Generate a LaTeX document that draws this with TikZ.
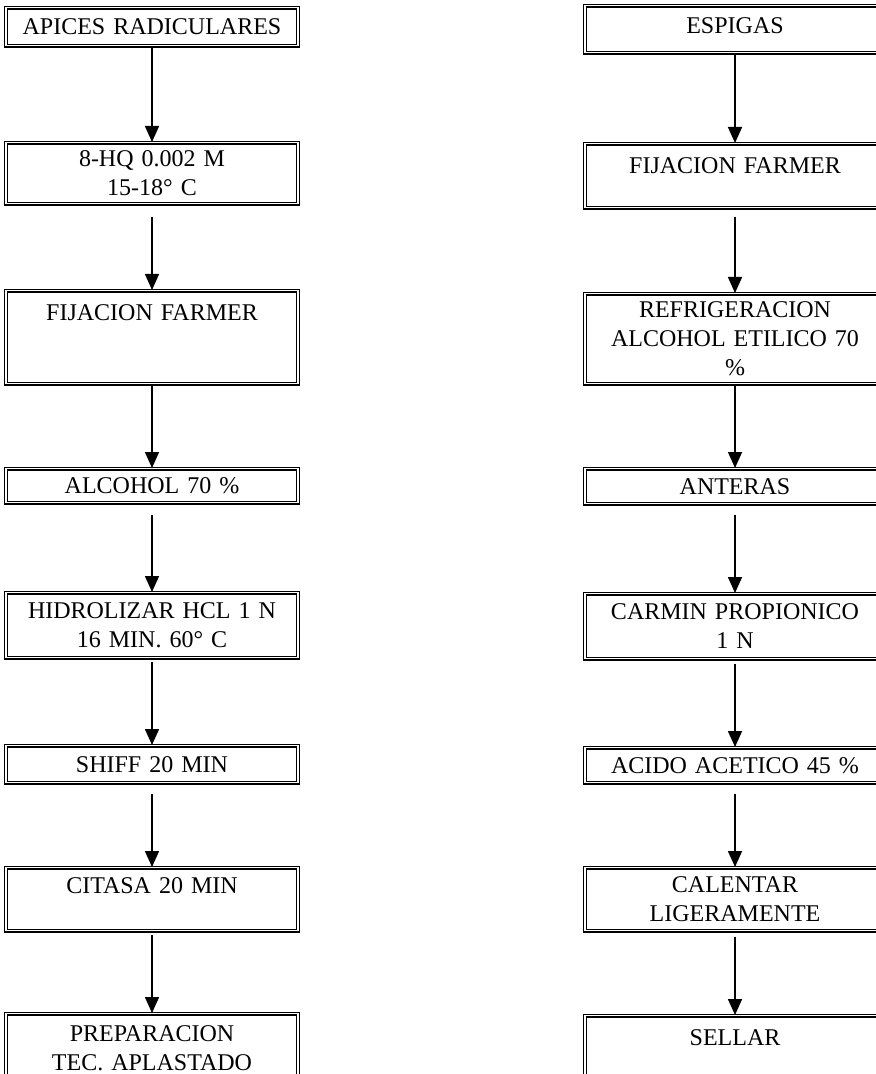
\documentclass[tikz,border=0pt]{standalone}
\usepackage{fontspec}
\setmainfont{Liberation Serif}
\usetikzlibrary{arrows.meta}

\begin{document}
\begin{tikzpicture}[
    x=1pt,
    y=1pt,
    font=\fontsize{12}{14.5}\selectfont,
    stepbox/.style={
      rectangle,
      draw,
      line width=0.8pt,
      double,
      double distance=0.6pt,
      anchor=north,
      align=center,
      inner xsep=3pt,
      inner ysep=2pt
    },
    stepleft/.style={
      stepbox,
      text width=140pt
    },
    stepright/.style={
      stepbox,
      text width=144pt
    },
    flow/.style={
      line width=0.8pt,
      -{Triangle[length=8pt,width=7pt]}
    }
]
\useasboundingbox (0,0) rectangle (438,-537);

% Root tips branch.
\node[stepleft,minimum height=19pt] (apices) at (76,-3.5)
  {APICES RADICULARES};
\node[stepleft,minimum height=30.5pt] (hq) at (76,-71)
  {8-HQ 0.002 M\\15-18° C};
\node[stepleft,text height=13pt,text depth=29.5pt] (fijleft) at (76,-145)
  {FIJACION FARMER};
\node[stepleft,minimum height=17pt] (alcohol) at (76,-234)
  {ALCOHOL 70 \%};
\node[stepleft,minimum height=32.5pt] (hidro) at (76,-296)
  {HIDROLIZAR HCL 1 N\\16 MIN. 60° C};
\node[stepleft,minimum height=18.5pt] (shiff) at (76,-372.5)
  {SHIFF 20 MIN};
\node[stepleft,text height=11pt,text depth=16.5pt] (citasa) at (76,-433.5)
  {CITASA 20 MIN};
\node[stepleft,text height=12pt,text depth=30pt] (prep) at (76,-506.5)
  {PREPARACION\\TEC. APLASTADO};

\draw[flow] (apices) -- (hq);
\draw[flow,shorten <=6pt] (hq) -- (fijleft);
\draw[flow] (fijleft) -- (alcohol);
\draw[flow,shorten <=5.5pt] (alcohol) -- (hidro);
\draw[flow,shorten <=1.5pt] (hidro) -- (shiff);
\draw[flow,shorten <=5pt] (shiff) -- (citasa);
\draw[flow,shorten <=1.5pt] (citasa) -- (prep);

% Spikes branch, cut by the right margin.
\node[stepright,text height=12pt,text depth=7.5pt] (espigas) at (367.5,-2.5)
  {ESPIGAS};
\node[stepright,text height=13pt,text depth=15pt] (fijright) at (367.5,-71.5)
  {FIJACION FARMER};
\node[stepright,minimum height=45pt] (refrig) at (367.5,-146.5)
  {REFRIGERACION\\ALCOHOL ETILICO 70\\\%};
\node[stepright,minimum height=17.5pt] (anteras) at (367.5,-234)
  {ANTERAS};
\node[stepright,minimum height=32.5pt] (carmin) at (367.5,-296.5)
  {CARMIN PROPIONICO\\1 N};
\node[stepright,minimum height=17.5pt] (acido) at (367.5,-373.5)
  {ACIDO ACETICO 45 \%};
\node[stepright,minimum height=31.5pt] (calentar) at (367.5,-433.5)
  {CALENTAR\\LIGERAMENTE};
\node[stepright,text height=13pt,text depth=30pt] (sellar) at (367.5,-507.5)
  {SELLAR};

\draw[flow] (espigas) -- (fijright);
\draw[flow,shorten <=4pt] (fijright) -- (refrig);
\draw[flow] (refrig) -- (anteras);
\draw[flow,shorten <=5pt] (anteras) -- (carmin);
\draw[flow,shorten <=2pt] (carmin) -- (acido);
\draw[flow,shorten <=5pt] (acido) -- (calentar);
\draw[flow,shorten <=2.5pt] (calentar) -- (sellar);

\end{tikzpicture}
\end{document}
